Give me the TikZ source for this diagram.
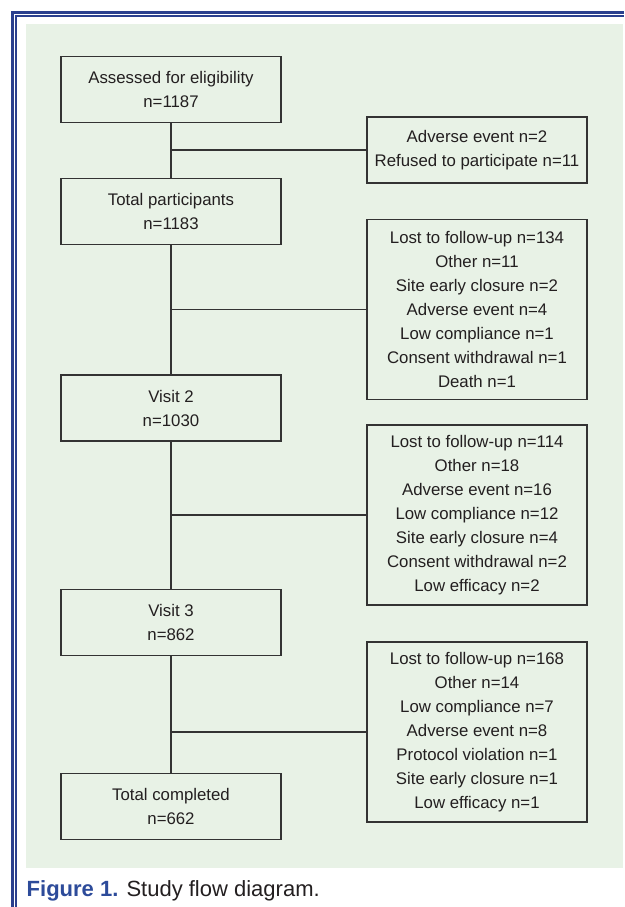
\documentclass[tikz,border=0pt]{standalone}
\usepackage{fontspec}
\setmainfont{Liberation Sans}
\definecolor{bgc}{HTML}{E8F2E6}
\definecolor{frameblue}{HTML}{2A3F8E}
\definecolor{capblue}{HTML}{2D4B9A}
\definecolor{ink}{HTML}{231F20}
\definecolor{linec}{HTML}{333333}
\tikzset{
  box/.style={draw=linec, line width=1.3pt, minimum width=220pt, inner sep=0pt,
    align=center, text=ink, font=\fontsize{16.8}{24}\selectfont},
  sbox/.style={box, minimum height=66pt},
  tbox/.style={box, minimum height=180pt},
  conn/.style={draw=linec, line width=1.3pt}
}
\begin{document}
\begin{tikzpicture}[x=1pt,y=-1pt]
\useasboundingbox (0,0) rectangle (624,907);
\fill[white] (0,0) rectangle (624,907);
\fill[bgc] (26,24) rectangle (623,867.5);
\draw[frameblue, line width=3pt] (12.5,907) -- (12.5,12.5) -- (624,12.5);
\draw[frameblue, line width=1.2pt] (16,907) -- (16,16) -- (624,16);

\node[sbox] (a) at (171,89.5) {Assessed for eligibility\\n=1187};
\node[sbox] (b) at (171,211.5) {Total participants\\n=1183};
\node[sbox] (c) at (171,408) {Visit 2\\n=1030};
\node[sbox] (d) at (171,622.5) {Visit 3\\n=862};
\node[sbox] (e) at (171,806.5) {Total completed\\n=662};

\node[sbox] (r1) at (477,150) {Adverse event n=2\\Refused to participate n=11};
\node[tbox] (r2) at (477,309.5) {Lost to follow-up n=134\\Other n=11\\Site early closure n=2\\Adverse event n=4\\Low compliance n=1\\Consent withdrawal n=1\\Death n=1};
\node[tbox] (r3) at (477,515) {Lost to follow-up n=114\\Other n=18\\Adverse event n=16\\Low compliance n=12\\Site early closure n=4\\Consent withdrawal n=2\\Low efficacy n=2};
\node[tbox] (r4) at (477,732) {Lost to follow-up n=168\\Other n=14\\Low compliance n=7\\Adverse event n=8\\Protocol violation n=1\\Site early closure n=1\\Low efficacy n=1};

\coordinate (j1) at (a.south |- r1.west);
\coordinate (j2) at (b.south |- r2.west);
\coordinate (j3) at (c.south |- r3.west);
\coordinate (j4) at (d.south |- r4.west);

\draw[conn] (a.south) -- (b.north);
\draw[conn] (b.south) -- (c.north);
\draw[conn] (c.south) -- (d.north);
\draw[conn] (d.south) -- (e.north);
\draw[conn] (j1) -- (r1.west);
\draw[conn] (j2) -- (r2.west);
\draw[conn] (j3) -- (r3.west);
\draw[conn] (j4) -- (r4.west);

\node[anchor=base west, inner sep=0pt, font=\fontsize{22}{26}\selectfont, text=ink] (cap) at (26.5,896)
  {\textcolor{capblue}{\textbf{Figure 1.}} Study flow diagram.};
\end{tikzpicture}
\end{document}
